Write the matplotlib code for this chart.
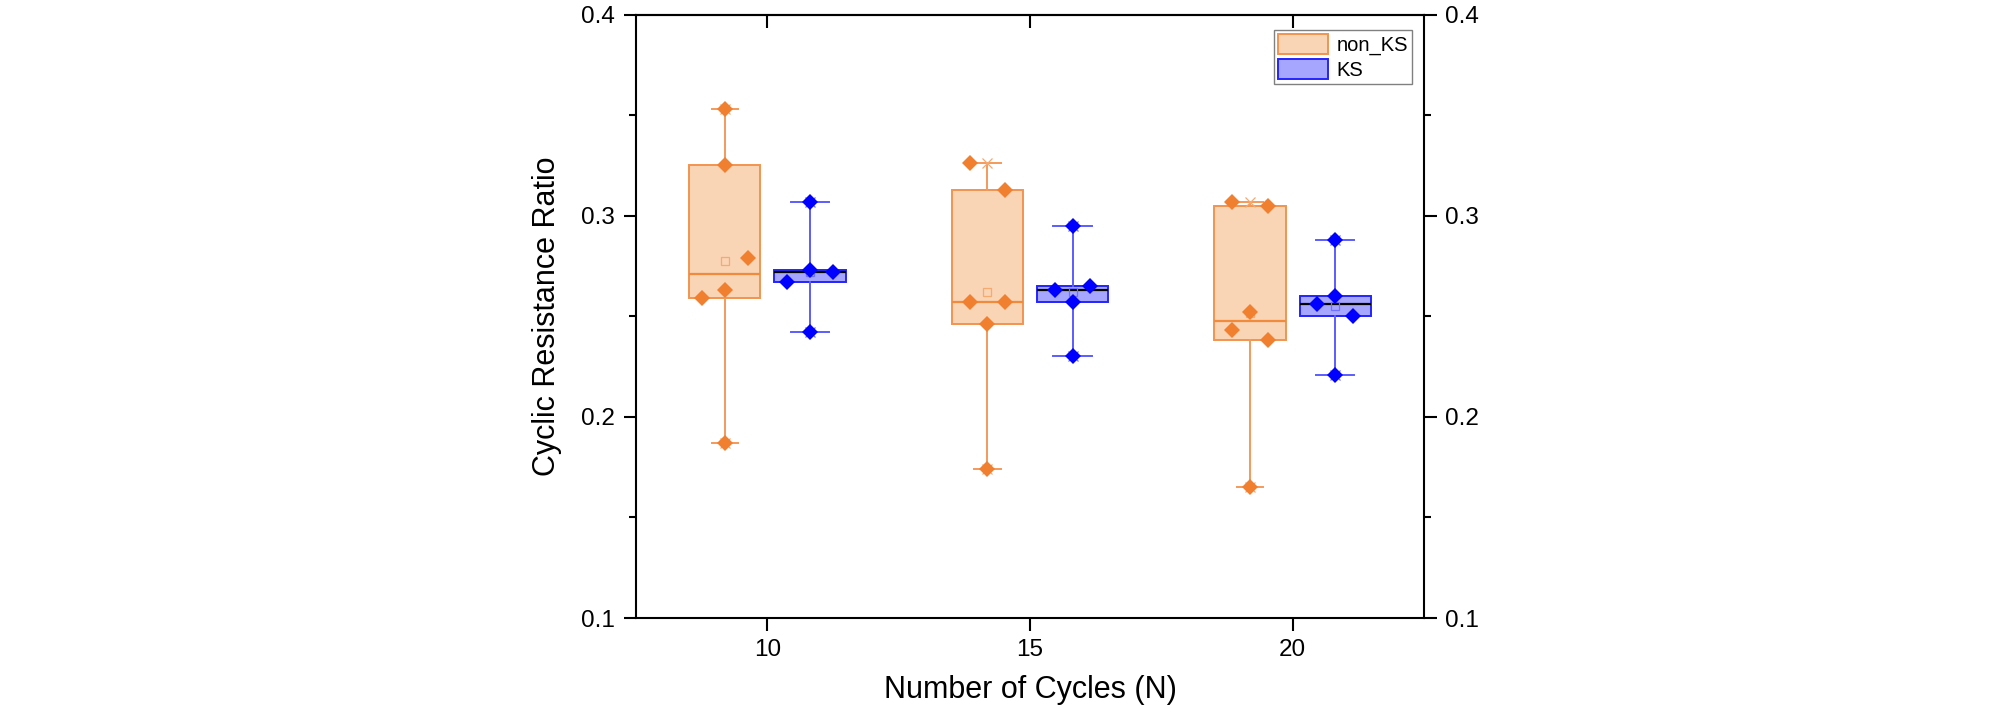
import numpy as np
import matplotlib
matplotlib.use("Agg")
import matplotlib.pyplot as plt
from matplotlib.patches import Patch

plt.rcParams['font.family'] = ['Liberation Sans', 'DejaVu Sans']

# -------- data --------
N_CYCLES = [10, 15, 20]
TICK_LABELS = ["10", "15", "20"]
SERIES = ["non_KS", "KS"]

# order of values matters for the jitter (like the worksheet order)
NON_KS_10 = [0.353, 0.325, 0.263, 0.259, 0.279, 0.187]
NON_KS_15 = [0.326, 0.313, 0.246, 0.257, 0.257, 0.174]
NON_KS_20 = [0.307, 0.305, 0.252, 0.243, 0.238, 0.165]

KS_10 = [0.307, 0.273, 0.267, 0.272, 0.242]
KS_15 = [0.295, 0.257, 0.263, 0.265, 0.230]
KS_20 = [0.288, 0.260, 0.256, 0.250, 0.221]

# -------- style --------
OFFSET = 0.81        # group offset of each box from the tick
BOX_W = 1.36
JITTER_STEP = [0.44, 0.34, 0.34]   # per cycle group
JITTER_TOL = 0.02

STY = {
    "non_KS": dict(fill="#F9D4B5", edge="#F39450", whisk="#F39A5A", med="#F08A3C",
                   pt="#F08030", mean="#F5AA70", cap=0.50),
    "KS":     dict(fill="#A6A6FF", edge="#2424FF", whisk="#5C5CFF", med="#000000",
                   pt="#0000FF", mean="#7070FF", cap=0.73),
}


def hinge_stats(vals):
    s = np.sort(np.asarray(vals, float))
    n = len(s)
    h = (n + 1) // 2
    return dict(med=float(np.median(s)), q1=float(np.median(s[:h])),
                q3=float(np.median(s[n - h:])), whislo=float(s[0]),
                whishi=float(s[-1]), mean=float(np.mean(s)), fliers=[])


def jitter_slots(vals, tol):
    # group values that sit close in y, then spread each group sideways
    vals = np.asarray(vals, float)
    order = np.argsort(vals, kind="stable")
    clusters, cur = [], [order[0]]
    for a, b in zip(order[:-1], order[1:]):
        if vals[b] - vals[a] < tol:
            cur.append(b)
        else:
            clusters.append(cur)
            cur = [b]
    clusters.append(cur)
    slots = np.zeros(len(vals))
    for c in clusters:
        c = sorted(c)          # data order inside the cluster
        k = len(c)
        if k % 2:
            pat = [0] + [s for i in range(1, k // 2 + 1) for s in (-i, i)]
        else:
            pat = [s for i in range(1, k // 2 + 1) for s in (-i, i)]
        for idx, p in zip(c, pat):
            slots[idx] = p
    return slots


data = {
    "non_KS": [NON_KS_10, NON_KS_15, NON_KS_20],
    "KS": [KS_10, KS_15, KS_20],
}

fig = plt.figure(figsize=(20.08, 7.08), dpi=100)
ax = fig.add_axes([0.3167, 0.1271, 0.3925, 0.8524])

for si, name in enumerate(SERIES):
    st = STY[name]
    sign = -1 if si == 0 else 1
    pos = [n + sign * OFFSET for n in N_CYCLES]
    stats = [hinge_stats(v) for v in data[name]]
    ax.bxp(stats, positions=pos, widths=BOX_W, patch_artist=True,
           showmeans=True, showfliers=False, capwidths=st["cap"],
           boxprops=dict(facecolor=st["fill"], edgecolor=st["edge"], linewidth=1.4),
           whiskerprops=dict(color=st["whisk"], linewidth=1.4),
           capprops=dict(color=st["whisk"], linewidth=1.4),
           medianprops=dict(color=st["med"], linewidth=1.6),
           meanprops=dict(marker="s", markersize=5.5, markerfacecolor="none",
                          markeredgecolor=st["mean"], markeredgewidth=0.9),
           zorder=2)
    for gi, (p, vals) in enumerate(zip(pos, data[name])):
        s = stats[gi]
        # min / max crosses (hidden when a point sits on them)
        ax.plot([p, p], [s["whislo"], s["whishi"]], ls="none", marker="x",
                ms=7.5, mew=0.9, color=st["mean"], zorder=3)
        xs = p + jitter_slots(vals, JITTER_TOL) * JITTER_STEP[gi]
        ax.plot(xs, vals, ls="none", marker="D", ms=8.5, mew=0,
                color=st["pt"], zorder=4)

ax.set_xlim(7.5, 22.5)
ax.set_ylim(0.1, 0.4)
ax.set_xticks(N_CYCLES)
ax.set_xticklabels(TICK_LABELS)
ax.set_yticks([0.1, 0.2, 0.3, 0.4])
ax.set_yticklabels(["0.1", "0.2", "0.3", "0.4"])
ax.set_yticks([0.15, 0.25, 0.35], minor=True)

for sp in ax.spines.values():
    sp.set_linewidth(1.5)

ax.tick_params(axis="both", which="major", labelsize=17.5, length=9, width=1.5,
               direction="out", pad=6)
ax.tick_params(axis="y", which="minor", length=5, width=1.5, direction="out")
ax.tick_params(axis="y", which="both", left=True, right=True,
               labelleft=True, labelright=True)

top = ax.secondary_xaxis("top")
top.set_xticks(N_CYCLES)
top.set_xticklabels([])
top.tick_params(direction="in", length=9, width=1.5)
top.spines["top"].set_linewidth(1.5)

ax.set_xlabel("Number of Cycles (N)", fontsize=22, labelpad=10)
ax.set_ylabel("Cyclic Resistance Ratio", fontsize=22, labelpad=14)

handles = [Patch(facecolor=STY[n]["fill"], edgecolor=STY[n]["edge"], linewidth=1.4)
           for n in SERIES]
leg = ax.legend(handles, SERIES, loc="upper right", bbox_to_anchor=(0.985, 0.975),
                borderaxespad=0, fontsize=14.5, handlelength=2.45, handleheight=1.15,
                handletextpad=0.45, labelspacing=0.2, borderpad=0.2,
                fancybox=False, framealpha=1)
leg.get_frame().set_edgecolor("#808080")
leg.get_frame().set_linewidth(1.0)

fig.savefig("out.png", dpi=100)
